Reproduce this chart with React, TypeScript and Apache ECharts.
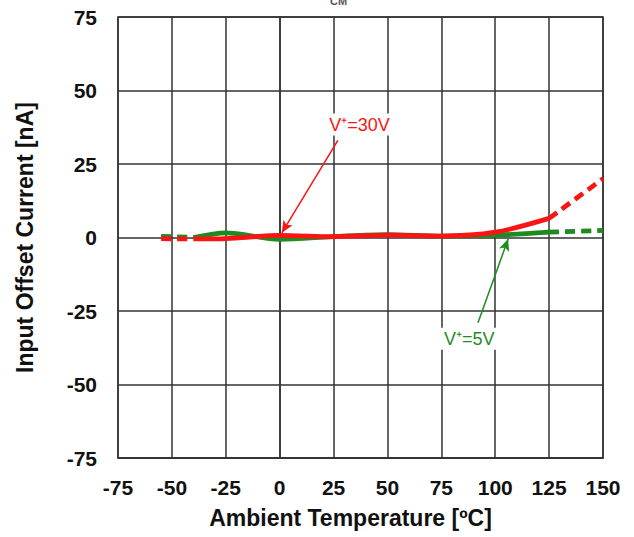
import React, { useEffect, useRef } from "react";
import * as echarts from "echarts";

const temps = [-55, -40, -25, 0, 25, 50, 75, 100, 125, 150];
const red30V = [-0.4, -0.5, -0.4, 0.7, 0.3, 0.8, 0.5, 1.8, 6.5, 20];
const green5V = [0.4, 0, 1.6, -0.6, 0.3, 1.0, 0.5, 0.8, 1.8, 2.4];
const xTickLabels = ["-75", "-50", "-25", "0", "25", "50", "75", "100", "125", "150"];
const yTickLabels = ["-75", "-50", "-25", "0", "25", "50", "75"];

const RED = "#fa1414";
const GREEN = "#1f8a1f";

function pairs(vals: number[], from: number, to: number) {
  const out: number[][] = [];
  for (let i = from; i <= to; i++) out.push([temps[i], vals[i]]);
  return out;
}

export default function App() {
  const ref = useRef<HTMLDivElement>(null);
  useEffect(() => {
    if (!ref.current) return;
    const chart = echarts.init(ref.current, null, { renderer: "svg" });
    const font = "'Liberation Sans', Arial, sans-serif";
    const lineSeries = (name: string, data: number[][], color: string, dashed: boolean, z: number, extra: any = {}) => ({
      name,
      type: "line",
      data,
      showSymbol: false,
      symbol: "none",
      smooth: 0.3,
      z,
      lineStyle: { color, width: 4.8, type: dashed ? [10, 6] : "solid", cap: "butt" },
      ...extra,
    });
    chart.setOption({
      animation: false,
      backgroundColor: "#fff",
      grid: { left: 118, right: 31, top: 17, bottom: 79, show: true, borderColor: "#333", borderWidth: 1.5, backgroundColor: "transparent" },
      xAxis: {
        type: "value",
        min: -75,
        max: 150,
        interval: 25,
        name: "Ambient Temperature [ºC]",
        nameLocation: "middle",
        nameGap: 48,
        nameTextStyle: { fontFamily: font, fontWeight: "bold", fontSize: 23, color: "#111", padding: [0, 20, 0, 0] },
        axisLine: { onZero: false, lineStyle: { color: "#333", width: 1.5 } },
        axisTick: { show: false },
        axisLabel: {
          fontFamily: font, fontWeight: "bold", fontSize: 21, color: "#111", margin: 19,
          formatter: (v: number) => xTickLabels[Math.round((v + 75) / 25)] ?? String(v),
        },
        splitLine: { show: true, lineStyle: { color: "#333", width: 1.5 } },
      },
      yAxis: {
        type: "value",
        min: -75,
        max: 75,
        interval: 25,
        name: "Input Offset Current [nA]",
        nameLocation: "middle",
        nameGap: 82,
        nameTextStyle: { fontFamily: font, fontWeight: "bold", fontSize: 23, color: "#111" },
        axisLine: { lineStyle: { color: "#333", width: 1.5 } },
        axisTick: { show: false },
        axisLabel: {
          fontFamily: font, fontWeight: "bold", fontSize: 21, color: "#111", margin: 21,
          formatter: (v: number) => yTickLabels[Math.round((v + 75) / 25)] ?? String(v),
        },
        splitLine: { show: true, lineStyle: { color: "#333", width: 1.5 } },
      },
      graphic: [
        { type: "text", left: 330, top: -5, style: { text: "CM", fontSize: 11, fontWeight: "bold", fill: "#555", fontFamily: font } },
      ],
      series: [
        lineSeries("5V low", pairs(green5V, 0, 1), GREEN, true, 2),
        lineSeries("5V", pairs(green5V, 1, 8), GREEN, false, 2, {
          markLine: {
            silent: true,
            symbol: ["none", "arrow"],
            symbolSize: [8, 12],
            label: { show: false },
            lineStyle: { color: GREEN, width: 1.5, type: "solid" },
            data: [[{ coord: [92, -29] }, { coord: [106, -0.5] }]],
          },
          markPoint: {
            silent: true,
            symbol: "circle",
            symbolSize: 1,
            itemStyle: { color: "rgba(0,0,0,0)" },
            label: {
              show: true, position: "inside", formatter: "V⁺=5V", color: GREEN, fontFamily: font, fontSize: 18,
              backgroundColor: "#fff", padding: [2, 4],
            },
            data: [{ coord: [88, -34.4] }],
          },
        }),
        lineSeries("5V high", pairs(green5V, 8, 9), GREEN, true, 2),
        lineSeries("30V low", pairs(red30V, 0, 1), RED, true, 3),
        lineSeries("30V", pairs(red30V, 1, 8), RED, false, 3, {
          markLine: {
            silent: true,
            symbol: ["none", "arrow"],
            symbolSize: [8, 12],
            label: { show: false },
            lineStyle: { color: RED, width: 1.5, type: "solid" },
            data: [[{ coord: [27, 33] }, { coord: [1, 1.6] }]],
          },
          markPoint: {
            silent: true,
            symbol: "circle",
            symbolSize: 1,
            itemStyle: { color: "rgba(0,0,0,0)" },
            label: {
              show: true, position: "inside", formatter: "V⁺=30V", color: RED, fontFamily: font, fontSize: 18,
              backgroundColor: "#fff", padding: [2, 4],
            },
            data: [{ coord: [37, 38.4] }],
          },
        }),
        lineSeries("30V high", pairs(red30V, 8, 9), RED, true, 3),
      ],
    });
    return () => chart.dispose();
  }, []);
  return (
    <div
      ref={ref}
      style={{ position: "fixed", left: 0, top: 0, width: 634, height: 537, background: "#fff" }}
    />
  );
}
